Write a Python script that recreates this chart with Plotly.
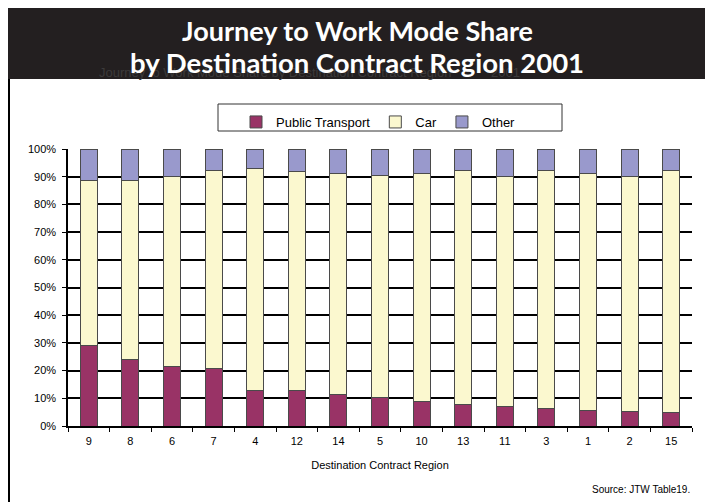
import plotly.graph_objects as go

# Destination contract regions, sorted by public transport share
regions = ["9", "8", "6", "7", "4", "12", "14", "5", "10", "13", "11", "3", "1", "2", "15"]
public_transport = [29.1, 23.9, 21.5, 20.7, 12.8, 12.8, 11.5, 10.3, 8.8, 7.8, 6.9, 6.3, 5.5, 5.2, 4.7]
car = [59.4, 64.6, 68.6, 71.7, 80.1, 78.9, 79.8, 80.2, 82.5, 84.4, 83.2, 86.1, 85.8, 84.9, 87.7]
other = [11.5, 11.5, 9.9, 7.6, 7.1, 8.3, 8.7, 9.5, 8.7, 7.8, 9.9, 7.6, 8.7, 9.9, 7.6]

# the page puts the figure 8px in from the top-left corner
OFF = 8
W, H = 713 - OFF, 502 - OFF
L, R, T, B = 68 - OFF, 692 - OFF, 149 - OFF, 426 - OFF


def px_x(x):
    return (x - OFF - L) / (R - L)


def px_y(y):
    return (B - (y - OFF)) / (B - T)


fig = go.Figure()
for name, vals, color in [
    ("Public Transport", public_transport, "#993366"),
    ("Car", car, "#FBF8CF"),
    ("Other", other, "#9999CC"),
]:
    fig.add_trace(go.Bar(
        x=regions, y=vals, name=name,
        marker=dict(color=color, line=dict(color="#4a4a4a", width=1)),
    ))

fig.update_layout(
    width=W, height=H,
    barmode="stack", bargap=0.59,
    margin=dict(l=L, r=W - R, t=T, b=H - B, pad=0),
    paper_bgcolor="white", plot_bgcolor="white",
    font=dict(family="Liberation Sans, Arial", size=11, color="black"),
    showlegend=True,
    legend=dict(
        orientation="h", x=px_x(236), xanchor="left", y=px_y(107), yanchor="top",
        bgcolor="rgba(0,0,0,0)", font=dict(size=13), traceorder="normal",
        itemwidth=30,
    ),
    xaxis=dict(
        title=dict(text="Destination Contract Region", font=dict(size=11), standoff=15),
        showline=True, linecolor="black", linewidth=1.5,
        ticks="outside", tickson="boundaries", ticklen=4, tickcolor="black",
        showgrid=False, tickfont=dict(size=11), ticklabelstandoff=4,
    ),
    yaxis=dict(
        range=[0, 100], dtick=10, ticksuffix="%",
        showline=True, linecolor="black", linewidth=1.5,
        ticks="outside", ticklen=4, tickcolor="black",
        showgrid=True, gridcolor="black", gridwidth=1.5,
        tickfont=dict(size=11), ticklabelstandoff=4,
    ),
)

# dark title band and left frame line
fig.add_shape(type="rect", xref="paper", yref="paper",
              x0=px_x(5), x1=px_x(713), y0=px_y(79), y1=px_y(8),
              fillcolor="#231F20", line=dict(width=0), layer="below")
fig.add_shape(type="line", xref="paper", yref="paper",
              x0=px_x(9), x1=px_x(9), y0=px_y(79), y1=px_y(502),
              line=dict(color="black", width=2))
# legend box
fig.add_shape(type="rect", xref="paper", yref="paper",
              x0=px_x(218), x1=px_x(562), y0=px_y(131), y1=px_y(104),
              line=dict(color="#333333", width=1), fillcolor="rgba(0,0,0,0)")

# faint original chart title behind the banner
fig.add_annotation(
    text="Journey to Work Mode Share by Destination Contract Region&nbsp;&nbsp;&nbsp;&nbsp;&nbsp;&nbsp;&nbsp;&nbsp;&nbsp;&nbsp;&nbsp;2001",
    xref="paper", yref="paper", x=px_x(97), y=px_y(72), xanchor="left", yanchor="middle",
    showarrow=False, font=dict(family="Liberation Sans, Arial", size=13, color="#3c3a3a"),
)
fig.add_annotation(
    text="<b>Journey to Work Mode Share</b>",
    xref="paper", yref="paper", x=px_x(357), y=px_y(31), xanchor="center", yanchor="middle",
    showarrow=False, font=dict(family="Lato", size=27, color="white"),
)
fig.add_annotation(
    text="<b>by Destination Contract Region 2001</b>",
    xref="paper", yref="paper", x=px_x(357), y=px_y(62), xanchor="center", yanchor="middle",
    showarrow=False, font=dict(family="Lato", size=27.5, color="white"),
)
fig.add_annotation(
    text="Source: JTW Table19.",
    xref="paper", yref="paper", x=px_x(692), y=px_y(489), xanchor="right", yanchor="middle",
    showarrow=False, font=dict(family="Liberation Sans, Arial", size=10, color="black"),
)

fig.write_html("out.html")
